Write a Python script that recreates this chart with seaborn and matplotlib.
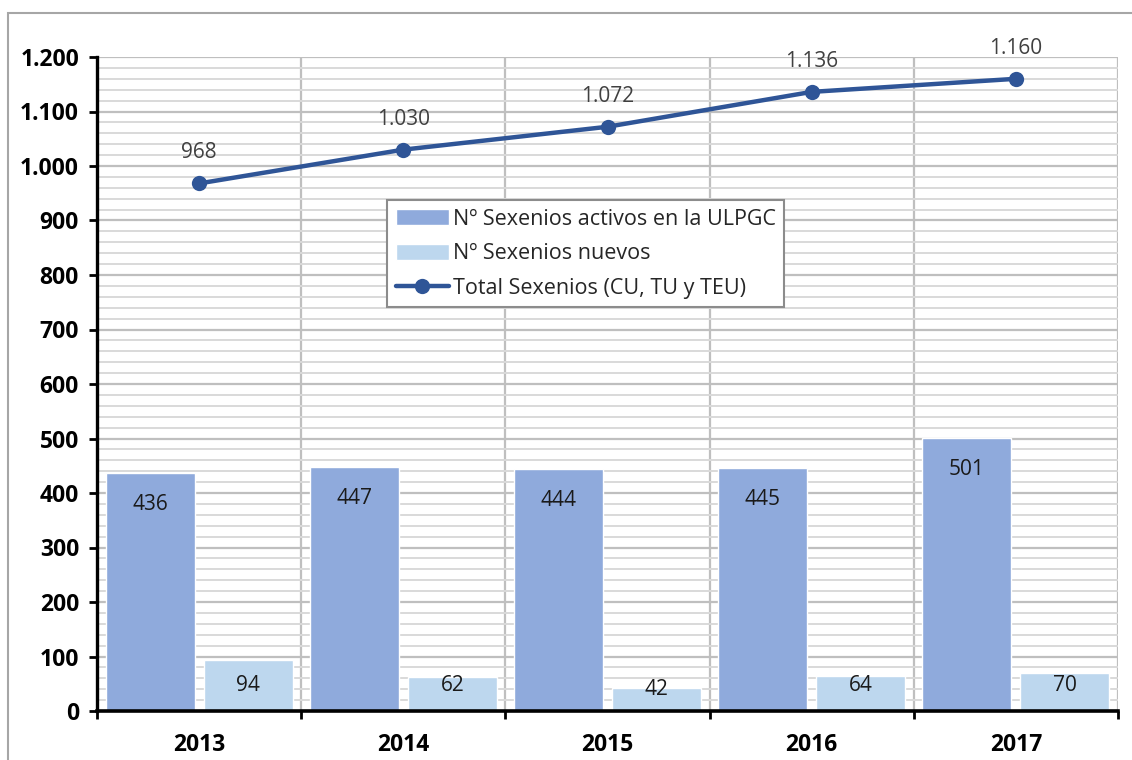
import numpy as np
import pandas as pd
import matplotlib
matplotlib.use("Agg")
import matplotlib.pyplot as plt
import matplotlib.ticker as mticker
from matplotlib.patches import Rectangle
import seaborn as sns

years = ["2013", "2014", "2015", "2016", "2017"]
activos = [436, 447, 444, 445, 501]
nuevos = [94, 62, 42, 64, 70]
total = [968, 1030, 1072, 1136, 1160]
series_names = ["Nº Sexenios activos en la ULPGC", "Nº Sexenios nuevos", "Total Sexenios (CU, TU y TEU)"]

sns.set_theme(style="white")
plt.rcParams["font.family"] = ["Open Sans", "DejaVu Sans"]

df = pd.DataFrame({
    "year": years * 2,
    "value": activos + nuevos,
    "serie": [series_names[0]] * 5 + [series_names[1]] * 5,
})

fig = plt.figure(figsize=(11.32, 7.6), dpi=100)
ax = fig.add_axes([97 / 1132, 49 / 760, 1021 / 1132, 654 / 760])

sns.barplot(data=df, x="year", y="value", hue="serie", order=years,
            hue_order=series_names[:2], palette=["#8FAADC", "#BDD7EE"],
            width=0.96, gap=0.092, saturation=1, ax=ax, legend=True)
sns.lineplot(x=np.arange(len(years)), y=total, color="#2F5597", linewidth=3.2,
             marker="o", markersize=11, markeredgewidth=0, label=series_names[2], ax=ax)

ax.set_xlim(-0.5, len(years) - 0.5)
ax.set_ylim(0, 1200)
ax.set_xlabel("")
ax.set_ylabel("")

# data labels on bars
for ci, cont in enumerate(ax.containers):
    vals = activos if ci == 0 else nuevos
    for p, v in zip(cont.patches, vals):
        cx = p.get_x() + p.get_width() / 2
        y = v - 57 if ci == 0 else min(46, v - 3)
        ax.text(cx, y, f"{v}", ha="center", va="center", fontsize=15, color="#1a1a1a")

for i, v in enumerate(total):
    lab = f"{v:,}".replace(",", ".")
    ax.annotate(lab, xy=(i, v), xytext=(0, 22), textcoords="offset points",
                ha="center", va="center", fontsize=15, color="#404040")

# axes styling
ax.yaxis.set_major_locator(mticker.MultipleLocator(100))
ax.yaxis.set_minor_locator(mticker.MultipleLocator(20))
ax.yaxis.set_major_formatter(mticker.FuncFormatter(lambda v, p: f"{int(v):,}".replace(",", ".")))
ax.xaxis.set_minor_locator(mticker.FixedLocator(np.arange(-0.5, len(years), 1.0)))

ax.set_axisbelow(True)
ax.grid(which="major", axis="y", color="#BFBFBF", linewidth=1.6)
ax.grid(which="minor", axis="y", color="#D9D9D9", linewidth=1.4)
ax.grid(which="minor", axis="x", color="#BFBFBF", linewidth=1.6)
ax.grid(which="major", axis="x", visible=False)

for s in ["top", "right"]:
    ax.spines[s].set_visible(False)
ax.spines["left"].set_color("black")
ax.spines["left"].set_linewidth(2.4)
ax.spines["bottom"].set_color("black")
ax.spines["bottom"].set_linewidth(2.6)

ax.tick_params(axis="y", which="major", length=6, width=2, color="black", pad=7,
               labelsize=16.5, left=True)
ax.tick_params(axis="y", which="minor", length=0)
ax.tick_params(axis="x", which="major", length=0, pad=16, labelsize=16.5)
ax.tick_params(axis="x", which="minor", length=6, width=2, color="black", bottom=True)
for t in ax.get_xticklabels() + ax.get_yticklabels():
    t.set_fontweight("bold")
    t.set_color("black")

handles, labels = ax.get_legend_handles_labels()
leg = ax.legend(handles, labels, loc="upper left", bbox_to_anchor=(0.284, 0.781),
                fontsize=15.5, frameon=True, fancybox=False, framealpha=1,
                edgecolor="#8C8C8C", handlelength=2.5, handleheight=0.75,
                labelspacing=0.62, borderpad=0.4, handletextpad=0.15,
                borderaxespad=0)
leg.get_frame().set_linewidth(1.5)

fig.add_artist(Rectangle((8 / 1132, -0.1), 1.2, 1.1 - 13 / 760, transform=fig.transFigure,
                         fill=False, edgecolor="#A6A6A6", linewidth=1.5))

fig.savefig("out.png", dpi=100)
